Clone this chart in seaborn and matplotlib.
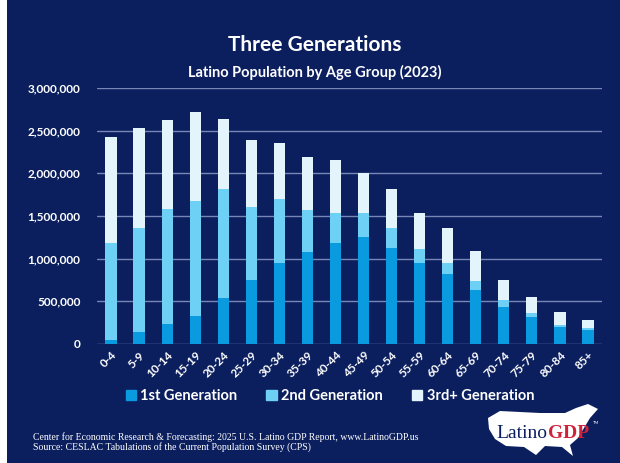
import pandas as pd
import seaborn as sns
import matplotlib.pyplot as plt
from matplotlib.patches import Rectangle, Polygon

ages = ["0-4", "5-9", "10-14", "15-19", "20-24", "25-29", "30-34", "35-39", "40-44",
        "45-49", "50-54", "55-59", "60-64", "65-69", "70-74", "75-79", "80-84", "85+"]
gen1 = [47000, 137000, 234000, 328000, 543000, 750000, 953000, 1080000, 1180000,
        1250000, 1120000, 953000, 824000, 637000, 430000, 320000, 200000, 160000]
gen2 = [1133000, 1219000, 1346000, 1342000, 1277000, 860000, 747000, 490000, 350000,
        280000, 240000, 157000, 122000, 105000, 82000, 40000, 25000, 30000]
gen3 = [1250000, 1174000, 1040000, 1050000, 820000, 780000, 650000, 620000, 630000,
        470000, 460000, 425000, 414000, 348000, 242000, 195000, 145000, 90000]
yticks = [0, 500000, 1000000, 1500000, 2000000, 2500000, 3000000]

NAVY = "#0b1f5f"
C1, C2, C3 = "#0a9ae0", "#6fd0f6", "#e4f4fc"

df = pd.DataFrame({"age": ages, "g1": gen1, "g2": gen2, "g3": gen3})
df["lvl2"] = df["g1"] + df["g2"]
df["lvl3"] = df["lvl2"] + df["g3"]

sns.set_theme(style="dark")
plt.rcParams["font.family"] = ["Lato", "DejaVu Sans"]

fig = plt.figure(figsize=(6.2, 4.63), dpi=100)
fig.patch.set_facecolor(NAVY)
fig.patches.append(Rectangle((0, 0), 7 / 620, 1, transform=fig.transFigure,
                             facecolor="white", edgecolor="none", zorder=0))
ax = fig.add_axes([97 / 620, 1 - 344 / 463, 505 / 620, 256 / 463])
ax.set_facecolor(NAVY)

# stacked bars drawn as cumulative layers
for col, c in (("lvl3", C3), ("lvl2", C2), ("g1", C1)):
    sns.barplot(data=df, x="age", y=col, color=c, width=0.4, saturation=1,
                linewidth=0, edgecolor="none", ax=ax, zorder=3)

ax.set_ylim(0, 3000000)
ax.set_xlim(-0.5, len(ages) - 0.5)
ax.set_yticks(yticks)
ax.set_yticklabels([f"{v:,}" for v in yticks])
ax.set_xlabel("")
ax.set_ylabel("")
ax.grid(axis="y", color="#7886b6", linewidth=1, zorder=1)
ax.grid(axis="x", visible=False)
for s in ax.spines.values():
    s.set_visible(False)
ax.tick_params(axis="both", length=0, colors="white")
ax.tick_params(axis="y", pad=12, labelsize=8.5)
ax.tick_params(axis="x", pad=4, labelsize=8.5)
for lab in ax.get_yticklabels():
    lab.set_fontweight("bold")
for lab in ax.get_xticklabels():
    lab.set_rotation(45)
    lab.set_ha("right")
    lab.set_rotation_mode("anchor")
    lab.set_fontweight("bold")

fig.text(0.508, 1 - 45 / 463, "Three Generations", color="white", fontsize=15,
         fontweight="bold", ha="center", va="center")
fig.text(0.508, 1 - 72 / 463, "Latino Population by Age Group (2023)", color="white",
         fontsize=10.5, fontweight="bold", ha="center", va="center")

handles = [Rectangle((0, 0), 1, 1, color=c) for c in (C1, C2, C3)]
leg = fig.legend(handles, ["1st Generation", "2nd Generation", "3rd+ Generation"],
                 loc="center", bbox_to_anchor=(0.532, 1 - 396 / 463), ncol=3,
                 frameon=False, handlelength=0.7, handleheight=0.7, handletextpad=0.3,
                 columnspacing=2.0, prop={"size": 10.5, "weight": "bold"})
for t in leg.get_texts():
    t.set_color("white")

fig.text(33 / 620, 1 - 437 / 463,
         "Center for Economic Research & Forecasting: 2025 U.S. Latino GDP Report, www.LatinoGDP.us",
         color="white", fontsize=7, family="Liberation Serif", va="center")
fig.text(33 / 620, 1 - 447 / 463,
         "Source: CESLAC Tabulations of the Current Population Survey (CPS)",
         color="white", fontsize=7, family="Liberation Serif", va="center")

# logo: rough US silhouette with LatinoGDP wordmark
us = [(488, 418), (500, 411), (540, 413), (565, 413), (576, 408), (588, 404),
      (598, 409), (590, 418), (584, 428), (578, 438), (570, 445), (573, 456),
      (562, 447), (545, 446), (536, 455), (524, 447), (506, 446), (495, 439),
      (489, 429)]
fig.patches.append(Polygon([(x / 620, 1 - y / 463) for x, y in us], closed=True,
                           transform=fig.transFigure, facecolor="white",
                           edgecolor="none", zorder=1))
fig.text(496 / 620, 1 - 433 / 463, "Latino", color=NAVY, fontsize=14,
         family="Liberation Serif", va="center", zorder=2)
fig.text(548 / 620, 1 - 433 / 463, "GDP", color="#d0203a", fontsize=14,
         fontweight="bold", family="Liberation Serif", va="center", zorder=2)
fig.text(593 / 620, 1 - 423 / 463, "TM", color="white", fontsize=3,
         va="center", zorder=2)

fig.savefig("out.png", dpi=100, facecolor=fig.get_facecolor())
